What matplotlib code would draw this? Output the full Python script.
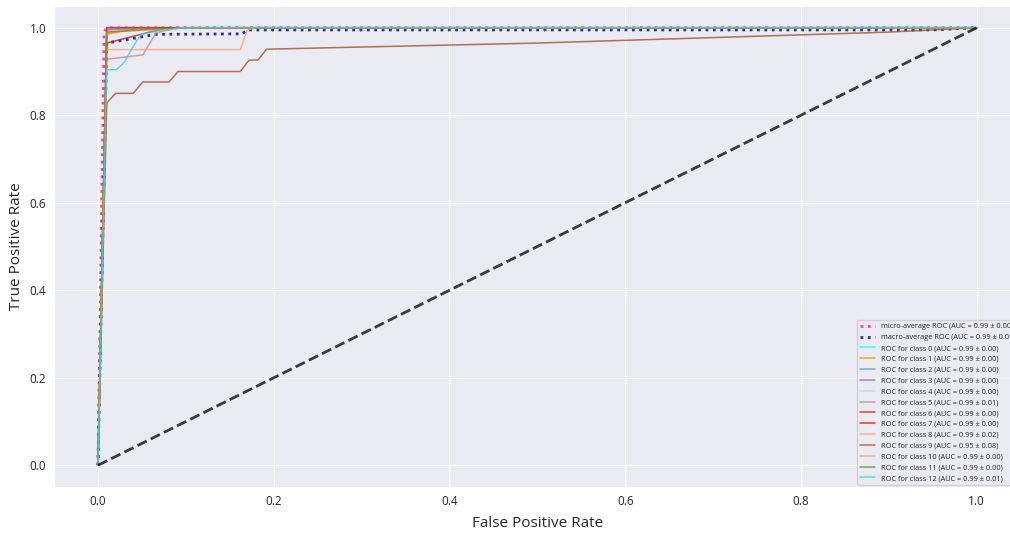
import matplotlib
matplotlib.use("Agg")
import matplotlib.pyplot as plt
import seaborn as sns

# ROC curves (fpr, tpr)
micro_fpr = [0.0, 0.007, 0.01, 1.0]
micro_tpr = [0.0, 0.99, 1.0, 1.0]
macro_fpr = [0.0, 0.01, 0.03, 0.066, 0.164, 0.17, 0.95, 1.0]
macro_tpr = [0.0, 0.965, 0.972, 0.985, 0.986, 0.995, 0.995, 1.0]

class_fpr = [
    [0.0, 0.01, 1.0],                                   # 0
    [0.0, 0.01, 0.05, 1.0],                             # 1
    [0.0, 0.01, 1.0],                                   # 2
    [0.0, 0.01, 0.06, 1.0],                             # 3
    [0.0, 0.01, 1.0],                                   # 4
    [0.0, 0.01, 0.051, 0.066, 0.09, 1.0],               # 5
    [0.0, 0.01, 0.059, 0.08, 1.0],                      # 6
    [0.0, 0.01, 1.0],                                   # 7
    [0.0, 0.01, 0.162, 0.17, 0.18, 1.0],                # 8
    [0.0, 0.01, 0.02, 0.04, 0.051, 0.081, 0.091, 0.162,
     0.172, 0.182, 0.192, 0.5, 0.9, 1.0],               # 9
    [0.0, 0.01, 0.06, 0.1, 1.0],                        # 10
    [0.0, 0.01, 0.07, 0.12, 1.0],                       # 11
    [0.0, 0.01, 0.021, 0.03, 0.04, 0.049, 0.069, 0.093,
     0.12, 1.0],                                        # 12
]
class_tpr = [
    [0.0, 1.0, 1.0],
    [0.0, 0.985, 1.0, 1.0],
    [0.0, 1.0, 1.0],
    [0.0, 0.995, 1.0, 1.0],
    [0.0, 1.0, 1.0],
    [0.0, 0.928, 0.938, 0.988, 1.0, 1.0],
    [0.0, 0.965, 0.99, 1.0, 1.0],
    [0.0, 1.0, 1.0],
    [0.0, 0.95, 0.95, 0.995, 1.0, 1.0],
    [0.0, 0.828, 0.85, 0.85, 0.876, 0.876, 0.90, 0.90,
     0.926, 0.926, 0.951, 0.965, 0.99, 1.0],
    [0.0, 0.99, 0.995, 1.0, 1.0],
    [0.0, 0.99, 0.998, 1.0, 1.0],
    [0.0, 0.904, 0.904, 0.921, 0.957, 0.985, 0.993, 0.999,
     1.0, 1.0],
]
class_auc = ["0.99 ± 0.00", "0.99 ± 0.00", "0.99 ± 0.00", "0.99 ± 0.00",
             "0.99 ± 0.00", "0.99 ± 0.01", "0.99 ± 0.00", "0.99 ± 0.00",
             "0.99 ± 0.02", "0.95 ± 0.08", "0.99 ± 0.00", "0.99 ± 0.00",
             "0.99 ± 0.01"]
micro_auc = "0.99 ± 0.00"
macro_auc = "0.99 ± 0.01"

colors = ["aqua", "darkorange", "cornflowerblue", "gray", "lightgray",
          "rosybrown", "firebrick", "red", "lightsalmon", "sienna",
          "sandybrown", "olivedrab", "mediumturquoise"]

sns.set_style("darkgrid")
plt.rcParams["font.family"] = ["Open Sans", "DejaVu Sans"]

fig = plt.figure(figsize=(10.1, 5.33), dpi=100)
ax = fig.add_axes([0.0535, 0.086, 0.957, 0.903])

ax.plot(micro_fpr, micro_tpr, color="deeppink", linestyle=":", lw=2,
        alpha=0.8, label="micro-average ROC (AUC = %s)" % micro_auc)
ax.plot(macro_fpr, macro_tpr, color="navy", linestyle=":", lw=2,
        alpha=0.8, label="macro-average ROC (AUC = %s)" % macro_auc)

for i in range(len(colors)):
    ax.plot(class_fpr[i], class_tpr[i], color=colors[i], lw=1.1, alpha=0.8,
            label="ROC for class %d (AUC = %s)" % (i, class_auc[i]))

ax.plot([0, 1], [0, 1], "k--", lw=2, alpha=0.75)

ax.set_xlim(-0.05, 1.05)
ax.set_ylim(-0.05, 1.05)
ax.set_xticks([0.0, 0.2, 0.4, 0.6, 0.8, 1.0])
ax.set_yticks([0.0, 0.2, 0.4, 0.6, 0.8, 1.0])
ax.tick_params(labelsize=8.5, pad=2)
ax.set_xlabel("False Positive Rate", fontsize=11, labelpad=6)
ax.set_ylabel("True Positive Rate", fontsize=11, labelpad=4)

ax.legend(loc="lower right", fontsize=5.3, borderaxespad=0.3)

fig.savefig("out.png", dpi=100)
